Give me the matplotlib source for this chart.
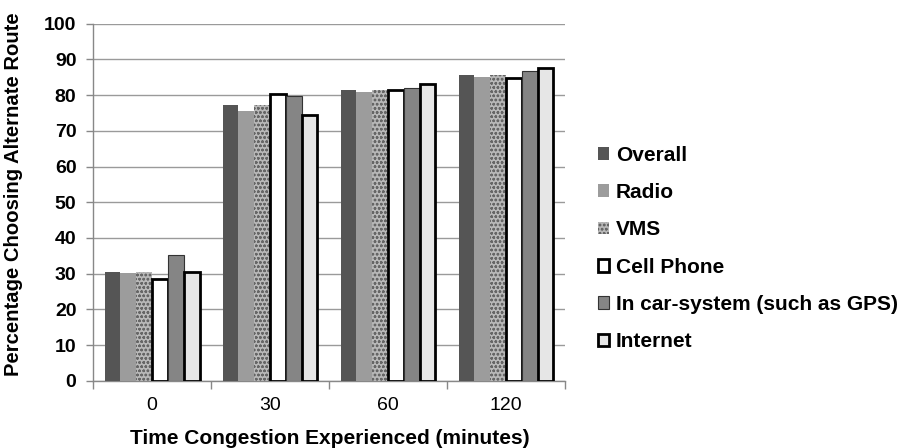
import numpy as np
import matplotlib
matplotlib.use("Agg")
from matplotlib import pyplot as plt
from matplotlib.ticker import FixedLocator

plt.rcParams['font.family'] = ['Liberation Sans', 'DejaVu Sans']
plt.rcParams['hatch.linewidth'] = 0.7

# data
categories = ['0', '30', '60', '120']
series_names = ['Overall', 'Radio', 'VMS', 'Cell Phone',
                'In car-system (such as GPS)', 'Internet']
overall = [30.5, 77.3, 81.4, 85.7]
radio = [30.2, 75.6, 80.8, 85.1]
vms = [30.6, 77.3, 81.5, 85.7]
cell_phone = [28.5, 80.2, 81.5, 84.7]
in_car = [35.3, 79.8, 81.9, 86.8]
internet = [30.4, 74.4, 83.1, 87.7]
values = [overall, radio, vms, cell_phone, in_car, internet]

# styles
styles = [
    dict(color='#555555', edgecolor='#555555', linewidth=0),
    dict(color='#9c9c9c', edgecolor='#9c9c9c', linewidth=0),
    dict(facecolor='#b8b8b8', edgecolor='#666666', linewidth=0, hatch='oooo'),
    dict(facecolor='white', edgecolor='black', linewidth=2.0),
    dict(facecolor='#858585', edgecolor='#333333', linewidth=0.8),
    dict(facecolor='#e6e6e6', edgecolor='black', linewidth=2.0),
]

fig = plt.figure(figsize=(9.04, 4.48), dpi=100)
ax = fig.add_axes([0.103, 0.150, 0.522, 0.797])

x = np.arange(len(categories))
w = 0.134
for i, (name, vals) in enumerate(zip(series_names, values)):
    ax.bar(x + (i - 2.5) * w, vals, w, label=name, zorder=3, **styles[i])

ax.set_xlim(-0.5, len(categories) - 0.5)
ax.set_ylim(0, 100)
ax.set_yticks(np.arange(0, 101, 10))
ax.yaxis.grid(True, color='#9a9a9a', linewidth=1.0, zorder=0)
ax.set_axisbelow(True)

ax.set_xticks(x)
ax.set_xticklabels(categories, fontsize=14)
ax.tick_params(axis='x', length=0, pad=12)
ax.xaxis.set_minor_locator(FixedLocator(np.arange(-0.5, len(categories), 1.0)))
ax.tick_params(axis='x', which='minor', length=6, color='#888888', width=1)
ax.tick_params(axis='y', length=5, color='#888888', width=1, pad=7)
for lab in ax.get_yticklabels():
    lab.set_fontweight('bold')
    lab.set_fontsize(14)

for s in ['top', 'right']:
    ax.spines[s].set_visible(False)
for s in ['left', 'bottom']:
    ax.spines[s].set_color('#888888')
    ax.spines[s].set_linewidth(1.0)

ax.set_xlabel('Time Congestion Experienced (minutes)', fontsize=15,
              fontweight='bold', va='center')
ax.xaxis.set_label_coords(0.502, -0.162)
ax.set_ylabel('Percentage Choosing Alternate Route', fontsize=14.6,
              fontweight='bold', va='center')
ax.yaxis.set_label_coords(-0.169, 0.522)

leg = fig.legend(loc='center left', bbox_to_anchor=(0.661, 0.445),
                 frameon=False, borderpad=0, borderaxespad=0,
                 handlelength=0.55, handleheight=0.55,
                 handletextpad=0.33, labelspacing=0.88,
                 prop={'weight': 'bold', 'size': 15})

fig.savefig('out.png', dpi=100)
